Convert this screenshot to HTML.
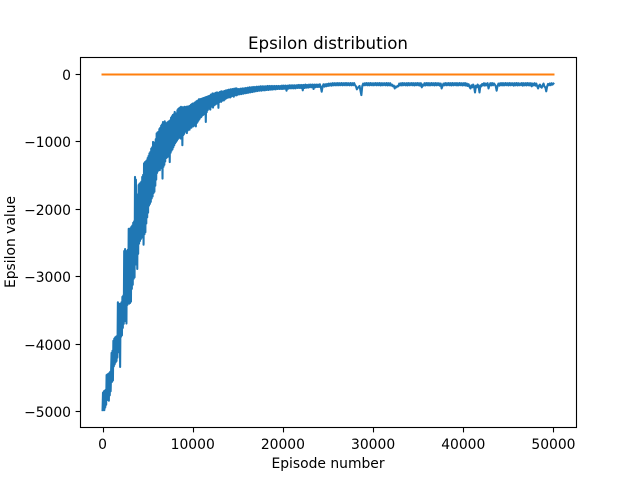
<!DOCTYPE html>
<html>
<head>
<meta charset="utf-8">
<title>Epsilon distribution</title>
<style>
html,body{margin:0;padding:0;background:#fff;width:640px;height:480px;overflow:hidden}
svg{display:block}
text{font-family:"DejaVu Sans","Liberation Sans",sans-serif;fill:#000}
</style>
</head>
<body>
<svg id="chart" width="640" height="480" viewBox="0 0 640 480" xmlns="http://www.w3.org/2000/svg">
<rect x="0" y="0" width="640" height="480" fill="#fff"/>
<g id="series"></g>
<g id="axes"></g>
<text x="328" y="49" font-size="16.67" text-anchor="middle">Epsilon distribution</text>
<text x="328" y="468" font-size="13.89" text-anchor="middle">Episode number</text>
<text x="15" y="242" font-size="13.89" text-anchor="middle" transform="rotate(-90 15 242)">Epsilon value</text>
</svg>
<script>
const xTicks = [0, 10000, 20000, 30000, 40000, 50000];
const xTickLabels = ["0", "10000", "20000", "30000", "40000", "50000"];
const yTicks = [0, -1000, -2000, -3000, -4000, -5000];
const yTickLabels = ["0", "\u22121000", "\u22122000", "\u22123000", "\u22124000", "\u22125000"];
const baselineEpisodes = [0, 50000];
const baselineValues = [0, 0];
const earlyStep = 50;
const lateStart = 15000;
const lateStep = 100;
const earlyValues = [
-4980,-4720,-4960,-4700,-4980,-4690,-4940,-4680,-4900,-4460,-4830,-4450,-4800,-4440,-4840,-4430,-4760,-4410,-4700,-4400,
-4130,-4560,-4100,-4540,-3950,-4330,-3920,-4300,-3900,-4270,-3890,-4250,-3880,-4200,-3380,-4120,-3400,-4060,-3420,-4340,
-3400,-3890,-3380,-3870,-3300,-3760,-3280,-3700,-2620,-3660,-2590,-3650,-2640,-3695,-2620,-3420,-2600,-3360,-2290,-3400,
-2310,-3390,-2280,-3370,-2260,-3180,-2240,-3120,-2200,-3030,-2180,-3010,-1520,-2820,-1560,-2790,-1780,-2885,-1800,-2660,
-1640,-2510,-1620,-2470,-1610,-2440,-1590,-2420,-1520,-2400,-1490,-2525,-1320,-2370,-1300,-2340,-1290,-2210,-1275,-2120,
-1240,-2050,-1210,-1945,-1170,-1920,-1150,-1890,-1100,-1840,-1080,-1810,-1000,-1760,-1010,-1740,-1020,-1650,-960,-1560,
-875,-1460,-860,-1430,-850,-1410,-810,-1420,-790,-1390,-760,-1350,-740,-1545,-705,-1370,-710,-1340,-695,-1290,
-720,-1240,-735,-1230,-710,-1200,-700,-1220,-690,-1300,-680,-1160,-640,-1130,-620,-1110,-600,-1080,-590,-1050,
-555,-1020,-575,-1000,-585,-980,-530,-960,-510,-940,-500,-920,-490,-950,-480,-910,-495,-1050,-485,-900,
-490,-880,-480,-850,-495,-840,-480,-870,-475,-830,-480,-810,-470,-820,-465,-790,-450,-790,-440,-770,
-430,-770,-440,-760,-420,-740,-410,-770,-400,-720,-390,-700,-385,-680,-366,-660,-370,-640,-365,-630,
-360,-610,-355,-600,-350,-590,-345,-570,-340,-705,-335,-560,-330,-530,-325,-510,-320,-500,-315,-520,
-300,-480,-295,-470,-280,-490,-285,-460,-290,-450,-275,-440,-270,-430,-265,-420,-280,-495,-270,-410,
-260,-400,-255,-405,-250,-390,-255,-380,-270,-385,-243,-370,-245,-360,-235,-350,-240,-345,-230,-340,
-225,-335,-230,-340,-220,-330,-225,-320,-215,-315,-220,-330,-210,-310,-215,-305,-205,-310,-210,-300
];
const lateValues = [
-300,-215,-295,-210,-290,-207,-285,-205,-280,-200,
-275,-195,-270,-190,-265,-190,-260,-185,-255,-185,
-250,-180,-245,-180,-240,-175,-240,-175,-235,-175,
-235,-175,-230,-170,-230,-170,-225,-170,-225,-170,
-220,-170,-220,-170,-215,-170,-215,-170,-215,-165,
-215,-165,-210,-165,-240,-165,-210,-160,-205,-160,
-205,-160,-205,-160,-205,-160,-200,-155,-200,-155,
-200,-155,-235,-155,-200,-150,-195,-155,-195,-150,
-190,-150,-190,-150,-215,-150,-190,-150,-185,-150,
-185,-145,-185,-255,-180,-145,-180,-145,-175,-140,
-170,-135,-165,-135,-165,-130,-160,-130,-160,-130,
-160,-128,-160,-130,-158,-128,-160,-130,-158,-128,
-160,-128,-158,-130,-160,-128,-160,-130,-158,-128,
-160,-175,-220,-200,-185,-170,-240,-306,-170,-135,
-160,-130,-158,-128,-160,-130,-160,-128,-158,-130,
-160,-130,-158,-128,-160,-130,-158,-128,-162,-130,
-160,-130,-158,-130,-160,-128,-162,-130,-160,-130,
-165,-150,-175,-165,-207,-180,-190,-170,-175,-135,
-160,-130,-162,-128,-158,-130,-160,-130,-162,-128,
-160,-130,-158,-128,-160,-130,-162,-130,-158,-128,
-160,-130,-165,-130,-190,-150,-165,-130,-162,-128,
-160,-128,-162,-130,-160,-128,-158,-130,-162,-128,
-160,-130,-158,-130,-165,-135,-207,-170,-135,-160,
-128,-160,-130,-158,-128,-160,-130,-162,-128,-160,
-130,-158,-128,-162,-130,-160,-128,-158,-130,-162,
-130,-160,-128,-165,-135,-170,-145,-185,-207,-160,
-190,-150,-180,-267,-165,-190,-150,-175,-267,-160,
-175,-140,-162,-130,-165,-135,-160,-130,-207,-160,
-130,-162,-128,-160,-132,-150,-175,-240,-170,-135,
-165,-130,-160,-128,-162,-130,-160,-128,-158,-130,
-162,-128,-160,-130,-158,-130,-165,-130,-160,-128,
-162,-130,-160,-132,-158,-128,-165,-130,-160,-130,
-162,-128,-160,-130,-162,-130,-175,-135,-160,-130,
-165,-135,-175,-207,-165,-150,-185,-195,-160,-135,
-180,-190,-250,-175,-140,-160,-132,-158,-130,-150,
-135
];
const episodes = earlyValues.map((_, i) => i * earlyStep).concat(lateValues.map((_, i) => lateStart + i * lateStep));
const epsilonValues = earlyValues.concat(lateValues);

const xScale = v => 80 + (v + 2500) * 496 / 55000;
const yScale = v => 74.5 - v * 337 / 5000;
const svgNS = 'http://www.w3.org/2000/svg';
const seriesGroup = document.getElementById('series');
const axesGroup = document.getElementById('axes');

function pointsFor(xs, ys) {
  return xs.map((x, i) => xScale(x).toFixed(2) + ',' + yScale(ys[i]).toFixed(2)).join(' ');
}

const blueLine = document.createElementNS(svgNS, 'polyline');


blueLine.setAttribute('points', pointsFor(episodes, epsilonValues));
blueLine.setAttribute('fill', 'none');
blueLine.setAttribute('stroke', '#1f77b4');
blueLine.setAttribute('stroke-width', '2.08');
blueLine.setAttribute('stroke-linejoin', 'round');
blueLine.setAttribute('stroke-linecap', 'square');
seriesGroup.appendChild(blueLine);

const orangeLine = document.createElementNS(svgNS, 'polyline');


orangeLine.setAttribute('points', pointsFor(baselineEpisodes, baselineValues));
orangeLine.setAttribute('fill', 'none');
orangeLine.setAttribute('stroke', '#ff7f0e');
orangeLine.setAttribute('stroke-width', '2.08');
orangeLine.setAttribute('stroke-linecap', 'square');
seriesGroup.appendChild(orangeLine);

const frame = document.createElementNS(svgNS, 'rect');


frame.setAttribute('x', '80.5');
frame.setAttribute('y', '57.5');
frame.setAttribute('width', '496');
frame.setAttribute('height', '370');
frame.setAttribute('fill', 'none');
frame.setAttribute('stroke', '#000');
frame.setAttribute('stroke-width', '1.11');
axesGroup.appendChild(frame);

xTicks.forEach((t, i) => {
  const px = Math.round(xScale(t)) + 0.5;
  const mark = document.createElementNS(svgNS, 'line');
  
  
  mark.setAttribute('x1', px);
  mark.setAttribute('x2', px);
  mark.setAttribute('y1', '427.5');
  mark.setAttribute('y2', '432.4');
  mark.setAttribute('stroke', '#000');
  mark.setAttribute('stroke-width', '1.11');
  axesGroup.appendChild(mark);
  const label = document.createElementNS(svgNS, 'text');
  
  
  label.setAttribute('x', xScale(t));
  label.setAttribute('y', '449');
  label.setAttribute('font-size', '13.89');
  label.setAttribute('text-anchor', 'middle');
  label.textContent = xTickLabels[i];
  axesGroup.appendChild(label);
});

yTicks.forEach((t, i) => {
  const py = Math.floor(yScale(t)) + 0.5;
  const mark = document.createElementNS(svgNS, 'line');
  
  
  mark.setAttribute('x1', '75.6');
  mark.setAttribute('x2', '80.5');
  mark.setAttribute('y1', py);
  mark.setAttribute('y2', py);
  mark.setAttribute('stroke', '#000');
  mark.setAttribute('stroke-width', '1.11');
  axesGroup.appendChild(mark);
  const label = document.createElementNS(svgNS, 'text');
  
  
  label.setAttribute('x', '71');
  label.setAttribute('y', Math.floor(yScale(t)) + 6);
  label.setAttribute('font-size', '13.89');
  label.setAttribute('text-anchor', 'end');
  label.textContent = yTickLabels[i];
  axesGroup.appendChild(label);
});
</script>
</body>
</html>
